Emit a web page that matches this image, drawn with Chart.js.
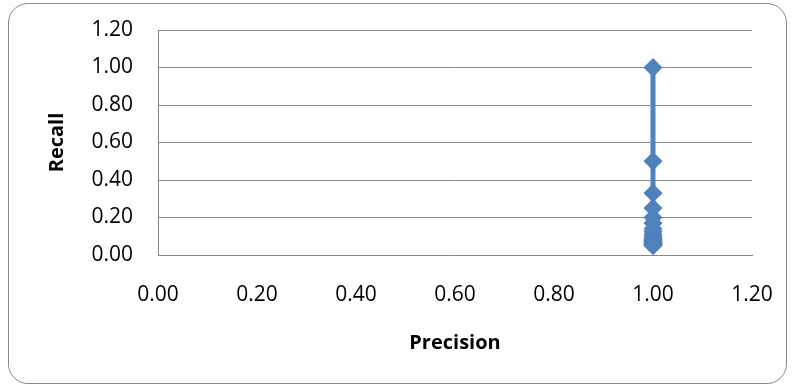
<!DOCTYPE html>
<html>
<head>
<meta charset="utf-8">
<script src="https://cdn.jsdelivr.net/npm/chart.js@4/dist/chart.umd.min.js"></script>
<style>
  html, body { margin: 0; padding: 0; background: #fff; }
  #wrap { position: relative; width: 793px; height: 387px; overflow: hidden; }
  #frame {
    position: absolute; left: 8px; top: 3px; width: 777px; height: 379px;
    border: 1.5px solid #878787; border-radius: 20px; box-sizing: content-box;
  }
  canvas { position: absolute; left: 0; top: 0; }
</style>
</head>
<body>
<div id="wrap">
  <div id="frame"></div>
  <canvas id="chart" width="793" height="387"></canvas>
</div>
<script>
// Precision / recall pairs
const precision = [1.00, 1.00, 1.00, 1.00, 1.00, 1.00, 1.00, 1.00, 1.00, 1.00,
                   1.00, 1.00, 1.00, 1.00, 1.00, 1.00, 1.00, 1.00, 1.00, 1.00];
const recall = [1.00, 0.50, 0.33, 0.25, 0.20, 0.17, 0.14, 0.125, 0.11, 0.10,
                0.09, 0.083, 0.077, 0.071, 0.067, 0.0625, 0.059, 0.056, 0.053, 0.05];
const axisMin = 0;
const axisMax = 1.2;
const axisStep = 0.2;
const xTitle = 'Precision';
const yTitle = 'Recall';

const points = precision.map((p, i) => ({ x: p, y: recall[i] }));
const blue = '#4F81BD';
const gridGray = '#868686';
const font = "'Open Sans', 'Noto Sans', sans-serif";

new Chart(document.getElementById('chart'), {
  type: 'scatter',
  data: {
    datasets: [{
      data: points,
      showLine: true,
      borderColor: blue,
      backgroundColor: blue,
      borderWidth: 5,
      pointStyle: 'rectRot',
      pointRadius: 9,
      pointBorderWidth: 1,
      pointBorderColor: blue,
      pointBackgroundColor: blue
    }]
  },
  options: {
    responsive: false,
    devicePixelRatio: 1,
    animation: false,
    layout: { autoPadding: false, padding: { left: 0, top: 30, right: 41, bottom: 0 } },
    plugins: { legend: { display: false }, tooltip: { enabled: false } },
    scales: {
      x: {
        type: 'linear',
        min: axisMin, max: axisMax,
        grid: { display: false, drawTicks: false },
        border: { display: true, color: gridGray, width: 1 },
        ticks: {
          stepSize: axisStep, padding: 27, color: '#000',
          font: { family: font, size: 21 },
          callback: v => Number(v).toFixed(2)
        },
        title: {
          display: true, text: xTitle, color: '#000',
          font: { family: font, size: 20, weight: 'bold' },
          padding: { top: 0, bottom: 32 }
        },
        afterFit: s => { s.height = 132; s.paddingLeft = 0; s.paddingRight = 0; }
      },
      y: {
        type: 'linear',
        min: axisMin, max: axisMax,
        grid: { color: gridGray, lineWidth: 1, drawTicks: false },
        border: { display: true, color: gridGray, width: 1 },
        ticks: {
          stepSize: axisStep, padding: 25, color: '#000',
          font: { family: font, size: 21 },
          callback: v => Number(v).toFixed(2)
        },
        title: {
          display: true, text: yTitle, color: '#000',
          font: { family: font, size: 20, weight: 'bold' },
          padding: { top: 45, bottom: 0 }
        },
        afterFit: s => { s.width = 158; s.paddingTop = 0; s.paddingBottom = 0; }
      }
    }
  }
});
</script>
</body>
</html>
